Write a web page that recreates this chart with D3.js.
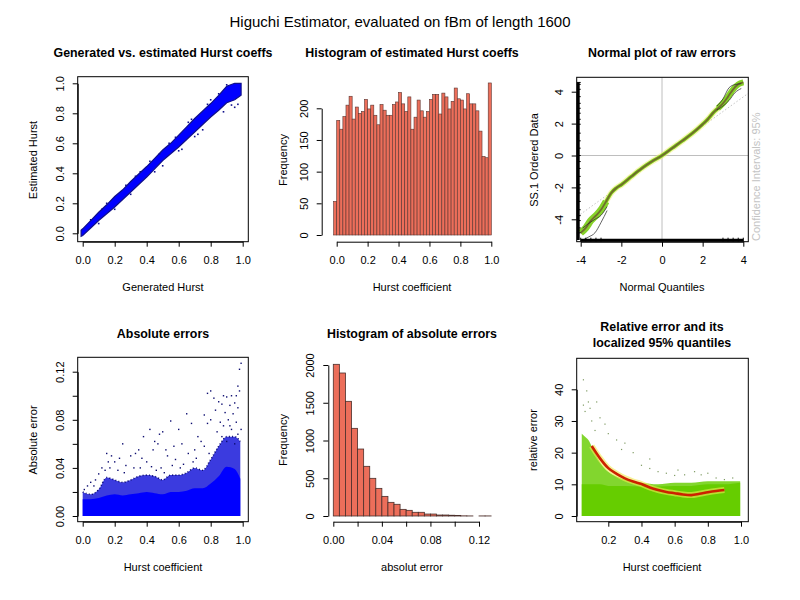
<!DOCTYPE html>
<html><head><meta charset="utf-8">
<script src="https://cdn.jsdelivr.net/npm/d3@7"></script>
<style>
body{margin:0;background:#fff}
text{font-family:"Liberation Sans",Arial,sans-serif;fill:#000}
</style>
</head><body>
<svg id="c" width="800" height="600"></svg>
<script>
// ---------------- DATA ----------------
const mainTitle = "Higuchi Estimator, evaluated on fBm of length 1600";

// Panel 1: generated vs estimated Hurst (scatter cloud envelope + edge points)
const p1X  = [-0.01, 0, 0.05, 0.1, 0.15, 0.2, 0.25, 0.3, 0.35, 0.4, 0.45, 0.5, 0.55, 0.6, 0.65, 0.7, 0.75, 0.8, 0.85, 0.9, 0.95, 0.99];
const p1Lo = [-0.02, -0.015, 0.035, 0.085, 0.13, 0.175, 0.225, 0.275, 0.325, 0.375, 0.43, 0.485, 0.53, 0.575, 0.625, 0.675, 0.725, 0.775, 0.82, 0.87, 0.89, 0.92];
const p1Hi = [0.02, 0.03, 0.085, 0.14, 0.19, 0.245, 0.29, 0.345, 0.395, 0.445, 0.5, 0.555, 0.6, 0.655, 0.71, 0.765, 0.815, 0.865, 0.92, 0.98, 1.0, 1.0];
const p1Pts = [[0.95,0.84],[0.93,0.855],[0.97,0.86],[0.88,0.81],[0.72,0.66],[0.7,0.645],[0.6,0.55],[0.45,0.41],[0.36,0.41],[0.54,0.6],[0.66,0.74],[0.8,0.89],[0.27,0.32],[0.15,0.2],[0.62,0.56],[0.75,0.69],[0.5,0.45],[0.3,0.26],[0.2,0.16],[0.1,0.065],[0.42,0.48],[0.58,0.64],[0.85,0.93],[0.78,0.86],[0.9,0.99],[0.33,0.38],[0.48,0.53],[0.68,0.76],[0.12,0.16],[0.05,0.09]];

// Panel 2: histogram of estimated Hurst coeffs
const hurstBinStart = -0.02, hurstBinWidth = 0.02;
const hurstCounts = [53,181,167,187,205,219,183,202,192,195,214,199,205,189,174,206,197,189,189,206,210,225,207,195,218,167,186,213,196,186,195,214,222,222,191,224,218,199,211,232,215,213,199,223,207,207,196,164,124,122,240];
const p2XTicks = [0,0.2,0.4,0.6,0.8,1.0];
const p2YTicks = [0,50,100,150,200];

// Panel 3: normal QQ plot of raw errors
const qqTheory = [-4,-3.75,-3.5,-3.25,-3,-2.75,-2.5,-2.25,-2,-1.5,-1,-0.5,0,0.5,1,1.5,2,2.25,2.5,2.75,3,3.25,3.5,3.75,4];
const qqSample = [-4.85,-4.54,-4.08,-3.77,-3.4,-2.88,-2.35,-2.04,-1.83,-1.31,-0.81,-0.38,0,0.46,0.92,1.4,1.96,2.27,2.65,2.96,3.27,3.69,4.15,4.46,4.58];
const qqCiX    = [-3.9,-3.6,-3.3,-3.0,-2.7];
const qqCiHiL  = [-4.55,-4.25,-4.0,-3.75,-3.2];
const qqCiLoL  = [-5.3,-5.1,-4.85,-4.2,-3.45];
const qqCiXU   = [2.7,3.0,3.3,3.6,3.9];
const qqCiHiU  = [3.1,3.55,4.25,4.45,4.5];
const qqCiLoU  = [2.85,3.1,3.45,3.95,4.2];
const qqRefX = [-4.3, 4.3], qqRefY = [-3.95, 3.95];
const p3Ticks = [-4,-2,0,2,4];

// Panel 4: absolute errors
const p4X     = [0,0.05,0.1,0.15,0.2,0.25,0.3,0.35,0.4,0.45,0.5,0.55,0.6,0.65,0.7,0.75,0.8,0.85,0.9,0.95,0.985];
const p4Outer = [0.020,0.018,0.022,0.032,0.030,0.028,0.030,0.033,0.034,0.033,0.030,0.034,0.034,0.036,0.040,0.038,0.047,0.058,0.066,0.066,0.062];
const p4Core  = [0.014,0.014,0.015,0.017,0.018,0.017,0.018,0.019,0.02,0.019,0.018,0.02,0.02,0.021,0.023,0.023,0.027,0.033,0.041,0.039,0.031];
const p4Pts = [[0.99,0.127],[0.98,0.122],[0.97,0.108],[0.98,0.104],[0.96,0.1],[0.93,0.1],[0.9,0.099],[0.88,0.1],[0.78,0.102],[0.8,0.104],[0.82,0.098],[0.85,0.095],[0.87,0.093],[0.92,0.092],[0.95,0.094],[0.97,0.09],[0.83,0.088],[0.89,0.086],[0.94,0.085],[0.76,0.084],[0.65,0.085],[0.55,0.079],[0.5,0.07],[0.48,0.068],[0.42,0.072],[0.38,0.066],[0.45,0.062],[0.6,0.072],[0.68,0.077],[0.72,0.066],[0.78,0.077],[0.8,0.08],[0.86,0.078],[0.91,0.08],[0.96,0.078],[0.99,0.072],[0.74,0.062],[0.62,0.06],[0.57,0.058],[0.52,0.055],[0.47,0.06],[0.44,0.055],[0.35,0.055],[0.33,0.052],[0.3,0.05],[0.25,0.06],[0.23,0.048],[0.18,0.05],[0.15,0.052],[0.2,0.045],[0.12,0.04],[0.1,0.035],[0.08,0.03],[0.05,0.028],[0.03,0.025],[0.27,0.042],[0.37,0.048],[0.4,0.045],[0.53,0.05],[0.58,0.047],[0.66,0.052],[0.7,0.055],[0.76,0.058],[0.84,0.07],[0.88,0.075],[0.93,0.072],[0.97,0.068],[0.9,0.062],[0.95,0.06],[0.69,0.045],[0.63,0.043],[0.56,0.042],[0.49,0.04],[0.43,0.041],[0.32,0.04],[0.22,0.038],[0.17,0.04],[0.14,0.038],[0.07,0.025],[0.01,0.022],[0.16,0.045],[0.26,0.036],[0.36,0.04],[0.46,0.038],[0.51,0.036],[0.61,0.04],[0.71,0.048],[0.79,0.052],[0.87,0.066],[0.92,0.075]];
const p14Ticks = [0,0.2,0.4,0.6,0.8,1.0];
const p4YTicks = [0,0.02,0.04,0.06,0.08,0.10,0.12];

// Panel 5: histogram of absolute errors
const absBinStart = 0, absBinWidth = 0.005;
const absCounts = [2009,1894,1519,1161,887,658,499,366,260,181,155,88,75,49,49,26,26,13,13,10,8,2,1,0,1,1];
const p5XTicks = [0,0.02,0.04,0.06,0.08,0.10,0.12];
const p5YTicks = [0,500,1000,1500,2000];

// Panel 6: relative error and localized 95% quantiles
const p6X     = [0.04,0.06,0.08,0.1,0.12,0.15,0.2,0.25,0.3,0.4,0.5,0.6,0.7,0.8,0.9,0.995];
const p6Core  = [10,10,10,10,10,10,9.5,9.5,9.5,9.3,9.3,9.5,9.5,10,10,10.5];
const p6Outer = [26,25,24,22,20,17,14,12.5,11.5,10.5,10,10.5,10.5,11,11,11];
const p6QX = [0.1,0.15,0.2,0.25,0.3,0.35,0.4,0.45,0.5,0.55,0.6,0.65,0.7,0.75,0.8,0.85,0.9];
const p6Q  = [22.1,18.2,15.1,13.3,11.9,10.9,10.1,9.0,8.2,7.6,7.2,6.8,6.6,7.0,7.5,7.9,8.2];
const p6Pts = [[0.05,43],[0.07,39.5],[0.05,35],[0.06,33],[0.08,36],[0.13,36],[0.1,30],[0.15,31],[0.12,27],[0.2,26],[0.25,24],[0.3,23],[0.35,20],[0.4,16],[0.45,15],[0.5,14],[0.55,13.5],[0.6,12.8],[0.66,13],[0.72,14],[0.76,13],[0.8,13.5],[0.85,12],[0.9,11.5],[0.95,12],[0.62,14.5],[0.45,18],[0.28,21],[0.18,29],[0.09,34]];
const p6XTicks = [0.2,0.4,0.6,0.8,1.0];
const p6YTicks = [0,10,20,30,40];

// ---------------- DRAWING ----------------
const svg = d3.select('#c');
svg.append('rect').attr('width',800).attr('height',600).attr('fill','#fff');

svg.append('text').attr('x',400).attr('y',27).attr('text-anchor','middle')
  .style('font-size','15px').text(mainTitle);

const fmt1 = d3.format('.1f'), fmt2 = d3.format('.2f');
const fmtInt = v => String(v);

function xAxis(scale, ticks, y, labelFn){
  const t0 = ticks[0], t1 = ticks[ticks.length-1];
  const s = d3.scaleLinear().domain([t0,t1]).range([scale(t0),scale(t1)]);
  const g = svg.append('g').attr('transform',`translate(0,${y})`)
    .call(d3.axisBottom(s).tickValues(ticks).tickSize(5).tickSizeOuter(0).tickPadding(10).tickFormat(labelFn));
  g.selectAll('text').style('font-size','11px').style('font-family','"Liberation Sans",Arial,sans-serif').attr('fill','#000');
  g.selectAll('line,path').attr('stroke','#000');
  return g;
}
function yAxis(scale, ticks, x, labelFn){
  const t0 = ticks[0], t1 = ticks[ticks.length-1];
  const s = d3.scaleLinear().domain([t0,t1]).range([scale(t0),scale(t1)]);
  const g = svg.append('g').attr('transform',`translate(${x},0)`)
    .call(d3.axisLeft(s).tickValues(ticks).tickSize(5).tickSizeOuter(0).tickFormat(labelFn));
  g.selectAll('text').style('font-size','11px').style('font-family','"Liberation Sans",Arial,sans-serif')
    .attr('fill','#000').attr('transform','rotate(-90)').attr('x',0).attr('y',-14).attr('dy',0)
    .attr('text-anchor','middle');
  g.selectAll('line,path').attr('stroke','#000');
  return g;
}
function title(lines, cx, y){
  lines.forEach((l,i)=>svg.append('text').attr('x',cx).attr('y',y+i*16).attr('text-anchor','middle')
    .style('font-size','12.4px').style('font-weight','bold').text(l));
}
function xlab(t, cx, y){ svg.append('text').attr('x',cx).attr('y',y).attr('text-anchor','middle').style('font-size','11px').text(t); }
function ylab(t, cx, cy){ svg.append('text').attr('transform',`translate(${cx+4},${cy}) rotate(-90)`).attr('text-anchor','middle').style('font-size','11px').text(t); }
function box(b, id){
  svg.append('clipPath').attr('id',id).append('rect').attr('x',b.x0).attr('y',b.y0).attr('width',b.x1-b.x0).attr('height',b.y1-b.y0);
  return b;
}
function frame(b){
  svg.append('rect').attr('x',b.x0).attr('y',b.y0).attr('width',b.x1-b.x0).attr('height',b.y1-b.y0)
    .attr('fill','none').attr('stroke','#000').attr('stroke-width',1);
}
const zip = (xs, ...cols) => xs.map((x,i)=>({x, v:cols.map(c=>c[i])}));

// ---- Panel 1 ----
{
  const b = box({x0:77.7,x1:248.3,y0:76.7,y1:241.7},'cp1');
  const x = d3.scaleLinear().domain([0,1]).range([82.7,242.7]);
  const y = d3.scaleLinear().domain([0,1]).range([233.3,83.3]);
  const g = svg.append('g').attr('clip-path','url(#cp1)');
  const d = zip(p1X,p1Lo,p1Hi);
  g.append('path').datum(d).attr('d',d3.area().x(e=>x(e.x)).y0(e=>y(e.v[0])).y1(e=>y(e.v[1])))
    .attr('fill','#0000ff').attr('stroke','#10108a').attr('stroke-width',1.2);
  g.selectAll('.p1p').data(p1Pts).enter().append('rect').attr('x',e=>x(e[0])-0.8).attr('y',e=>y(e[1])-0.8)
    .attr('width',1.6).attr('height',1.6).attr('fill','#10108a');
  frame(b);
  xAxis(x,p14Ticks,b.y1,fmt1); yAxis(y,p14Ticks,b.x0,fmt1);
  title(['Generated vs. estimated Hurst coeffs'],163,56.5);
  xlab('Generated Hurst',163,291); ylab('Estimated Hurst',33,160);
}

// ---- Panel 2 ----
{
  const x = d3.scaleLinear().domain([0,1]).range([336.7,491.3]);
  const y = d3.scaleLinear().domain([0,200]).range([235,108.3]);
  svg.append('g').selectAll('rect').data(hurstCounts).enter().append('rect')
    .attr('x',(c,i)=>x(hurstBinStart+i*hurstBinWidth)).attr('width',x(hurstBinWidth)-x(0))
    .attr('y',c=>y(c)).attr('height',c=>y(0)-y(c))
    .attr('fill','#EC6E5A').attr('stroke','#5a3530').attr('stroke-width',0.6);
  xAxis(x,p2XTicks,241.7,fmt1); yAxis(y,p2YTicks,321.7,fmtInt);
  title(['Histogram of estimated Hurst coeffs'],412,56.5);
  xlab('Hurst coefficient',412,291); ylab('Frequency',283,160);
}

// ---- Panel 3 ----
{
  const b = box({x0:576.7,x1:748.3,y0:77.3,y1:241.7},'cp3');
  const x = d3.scaleLinear().domain([-4,4]).range([580.7,743.3]);
  const y = d3.scaleLinear().domain([-4,4]).range([219.3,91.7]);
  const g = svg.append('g').attr('clip-path','url(#cp3)');
  g.append('line').attr('x1',x(0)).attr('x2',x(0)).attr('y1',b.y0).attr('y2',b.y1).attr('stroke','#bebebe');
  g.append('line').attr('x1',b.x0).attr('x2',b.x1).attr('y1',y(0)).attr('y2',y(0)).attr('stroke','#bebebe');
  g.append('line').attr('x1',x(qqRefX[0])).attr('x2',x(qqRefX[1])).attr('y1',y(qqRefY[0])).attr('y2',y(qqRefY[1]))
    .attr('stroke','#aaa').attr('stroke-width',0.7).attr('stroke-dasharray','1.5,2');
  const d = qqTheory.map((v,i)=>({x:v,y:qqSample[i]}));
  const ln = d3.line().x(e=>x(e.x)).y(e=>y(e.y)).curve(d3.curveMonotoneX);
  g.append('path').datum(d).attr('d',ln).attr('fill','none').attr('stroke','#f4f070').attr('stroke-width',6).attr('opacity',0.5);
  g.append('path').datum(d).attr('d',ln).attr('fill','none').attr('stroke','#7cc81a').attr('stroke-width',3.6);
  g.append('path').datum(d.filter(e=>e.x<=-2.75)).attr('d',ln).attr('fill','none').attr('stroke','#86d22a').attr('stroke-width',7);
  g.append('path').datum(d.filter(e=>e.x>=2.75)).attr('d',ln).attr('fill','none').attr('stroke','#86d22a').attr('stroke-width',6);
  g.append('path').datum(d).attr('d',ln).attr('fill','none').attr('stroke','#6e5f30').attr('stroke-width',1.8).attr('opacity',0.9);
  const ci = (xs,ys)=>xs.map((v,i)=>({x:v,y:ys[i]}));
  [[qqCiX,qqCiHiL],[qqCiX,qqCiLoL],[qqCiXU,qqCiHiU],[qqCiXU,qqCiLoU]].forEach(([xs,ys])=>{
    g.append('path').datum(ci(xs,ys)).attr('d',ln).attr('fill','none').attr('stroke','#222').attr('stroke-width',0.7);
  });
  // rugs
  g.append('line').attr('x1',b.x0+1.5).attr('x2',b.x0+1.5).attr('y1',y(d3.min(qqCiLoL))).attr('y2',y(d3.max(qqSample)))
    .attr('stroke','#000').attr('stroke-width',3);
  g.selectAll('.ry').data(qqSample).enter().append('line').attr('x1',b.x0).attr('x2',b.x0+4)
    .attr('y1',v=>y(v)).attr('y2',v=>y(v)).attr('stroke','#000').attr('stroke-width',1);
  g.append('line').attr('x1',x(d3.min(qqTheory))).attr('x2',x(d3.max(qqTheory))).attr('y1',b.y1-1.5).attr('y2',b.y1-1.5)
    .attr('stroke','#000').attr('stroke-width',3);
  g.selectAll('.rx').data(qqTheory.filter(v=>Math.abs(v)>=3)).enter().append('line').attr('y1',b.y1).attr('y2',b.y1-4)
    .attr('x1',v=>x(v)).attr('x2',v=>x(v)).attr('stroke','#000').attr('stroke-width',1);
  frame(b);
  xAxis(x,p3Ticks,b.y1,fmtInt); yAxis(y,p3Ticks,b.x0,fmtInt);
  title(['Normal plot of raw errors'],662,56.5);
  xlab('Normal Quantiles',662,291); ylab('SS.1 Ordered Data',534,160);
  svg.append('text').attr('transform','translate(760,241) rotate(-90)').attr('text-anchor','start')
    .style('font-size','11px').style('fill','#c4c4c4').text('Confidence Intervals: 95%');
}

// ---- Panel 4 ----
{
  const b = box({x0:77.7,x1:248.3,y0:357.3,y1:521.7},'cp4');
  const x = d3.scaleLinear().domain([0,1]).range([82.7,242.7]);
  const y = d3.scaleLinear().domain([0,0.12]).range([516,371.7]);
  const g = svg.append('g').attr('clip-path','url(#cp4)');
  const d = zip(p4X,p4Outer,p4Core);
  const outerArea = d3.area().x(e=>x(e.x)).y0(y(0)).y1(e=>y(e.v[0])).curve(d3.curveMonotoneX);
  g.append('path').datum(d).attr('d',outerArea).attr('fill','#1010d8').attr('opacity',0.82);
  g.append('path').datum(d).attr('d',d3.line().x(e=>x(e.x)).y(e=>y(e.v[0])).curve(d3.curveMonotoneX))
    .attr('fill','none').attr('stroke','#0c0c70').attr('stroke-width',1.6).attr('stroke-dasharray','1,2.2');
  g.append('path').datum(d).attr('d',d3.area().x(e=>x(e.x)).y0(y(0)).y1(e=>y(e.v[1])).curve(d3.curveMonotoneX))
    .attr('fill','#0000ff');
  g.selectAll('.p4p').data(p4Pts).enter().append('rect').attr('x',e=>x(e[0])-0.7).attr('y',e=>y(e[1])-0.7)
    .attr('width',1.4).attr('height',1.4).attr('fill','#0c0c70');
  frame(b);
  xAxis(x,p14Ticks,b.y1,fmt1);
  yAxis(y,p4YTicks,b.x0,v=>[0,0.04,0.08,0.12].some(t=>Math.abs(t-v)<1e-9)?fmt2(v):'');
  title(['Absolute errors'],163,337.5);
  xlab('Hurst coefficient',163,571); ylab('Absolute error',33,440);
}

// ---- Panel 5 ----
{
  const x = d3.scaleLinear().domain([0,0.12]).range([333.3,479]);
  const y = d3.scaleLinear().domain([0,2000]).range([516,365]);
  svg.append('g').selectAll('rect').data(absCounts).enter().append('rect')
    .attr('x',(c,i)=>x(absBinStart+i*absBinWidth)).attr('width',x(absBinWidth)-x(0))
    .attr('y',c=>y(c)).attr('height',c=>y(0)-y(c))
    .attr('fill','#EC6E5A').attr('stroke','#4a2f2b').attr('stroke-width',0.8);
  xAxis(x,p5XTicks,521.7,v=>[0,0.04,0.08,0.12].some(t=>Math.abs(t-v)<1e-9)?fmt2(v):'');
  yAxis(y,p5YTicks,328.3,fmtInt);
  title(['Histogram of absolute errors'],412,337.5);
  xlab('absolut error',412,571); ylab('Frequency',283,440);
}

// ---- Panel 6 ----
{
  const b = box({x0:576.7,x1:748.3,y0:358.3,y1:521.7},'cp6');
  const x = d3.scaleLinear().domain([0.2,1.0]).range([608.3,741]);
  const y = d3.scaleLinear().domain([0,40]).range([516,389.3]);
  const g = svg.append('g').attr('clip-path','url(#cp6)');
  const d = zip(p6X,p6Outer,p6Core);
  g.append('path').datum(d).attr('d',d3.area().x(e=>x(e.x)).y0(y(0)).y1(e=>y(e.v[0])).curve(d3.curveMonotoneX))
    .attr('fill','#66CD00').attr('opacity',0.82);
  g.append('path').datum(d).attr('d',d3.area().x(e=>x(e.x)).y0(y(0)).y1(e=>y(e.v[1])).curve(d3.curveMonotoneX))
    .attr('fill','#66CD00');
  g.selectAll('.p6p').data(p6Pts).enter().append('rect').attr('x',e=>x(e[0])-0.6).attr('y',e=>y(e[1])-0.6)
    .attr('width',1.2).attr('height',1.2).attr('fill','#7e9a62');
  const q = p6QX.map((v,i)=>({x:v,y:p6Q[i]}));
  const ql = d3.line().x(e=>x(e.x)).y(e=>y(e.y)).curve(d3.curveMonotoneX);
  g.append('path').datum(q).attr('d',ql).attr('fill','none').attr('stroke','#f0ea50').attr('stroke-width',6).attr('opacity',0.6);
  g.append('path').datum(q).attr('d',ql).attr('fill','none').attr('stroke','#cc2200').attr('stroke-width',2.6);
  frame(b);
  xAxis(x,p6XTicks,b.y1,fmt1); yAxis(y,p6YTicks,b.x0,fmtInt);
  title(['Relative error and its','localized 95% quantiles'],662,330.5);
  xlab('Hurst coefficient',662,571); ylab('relative error',533,440);
}
</script>
</body></html>
